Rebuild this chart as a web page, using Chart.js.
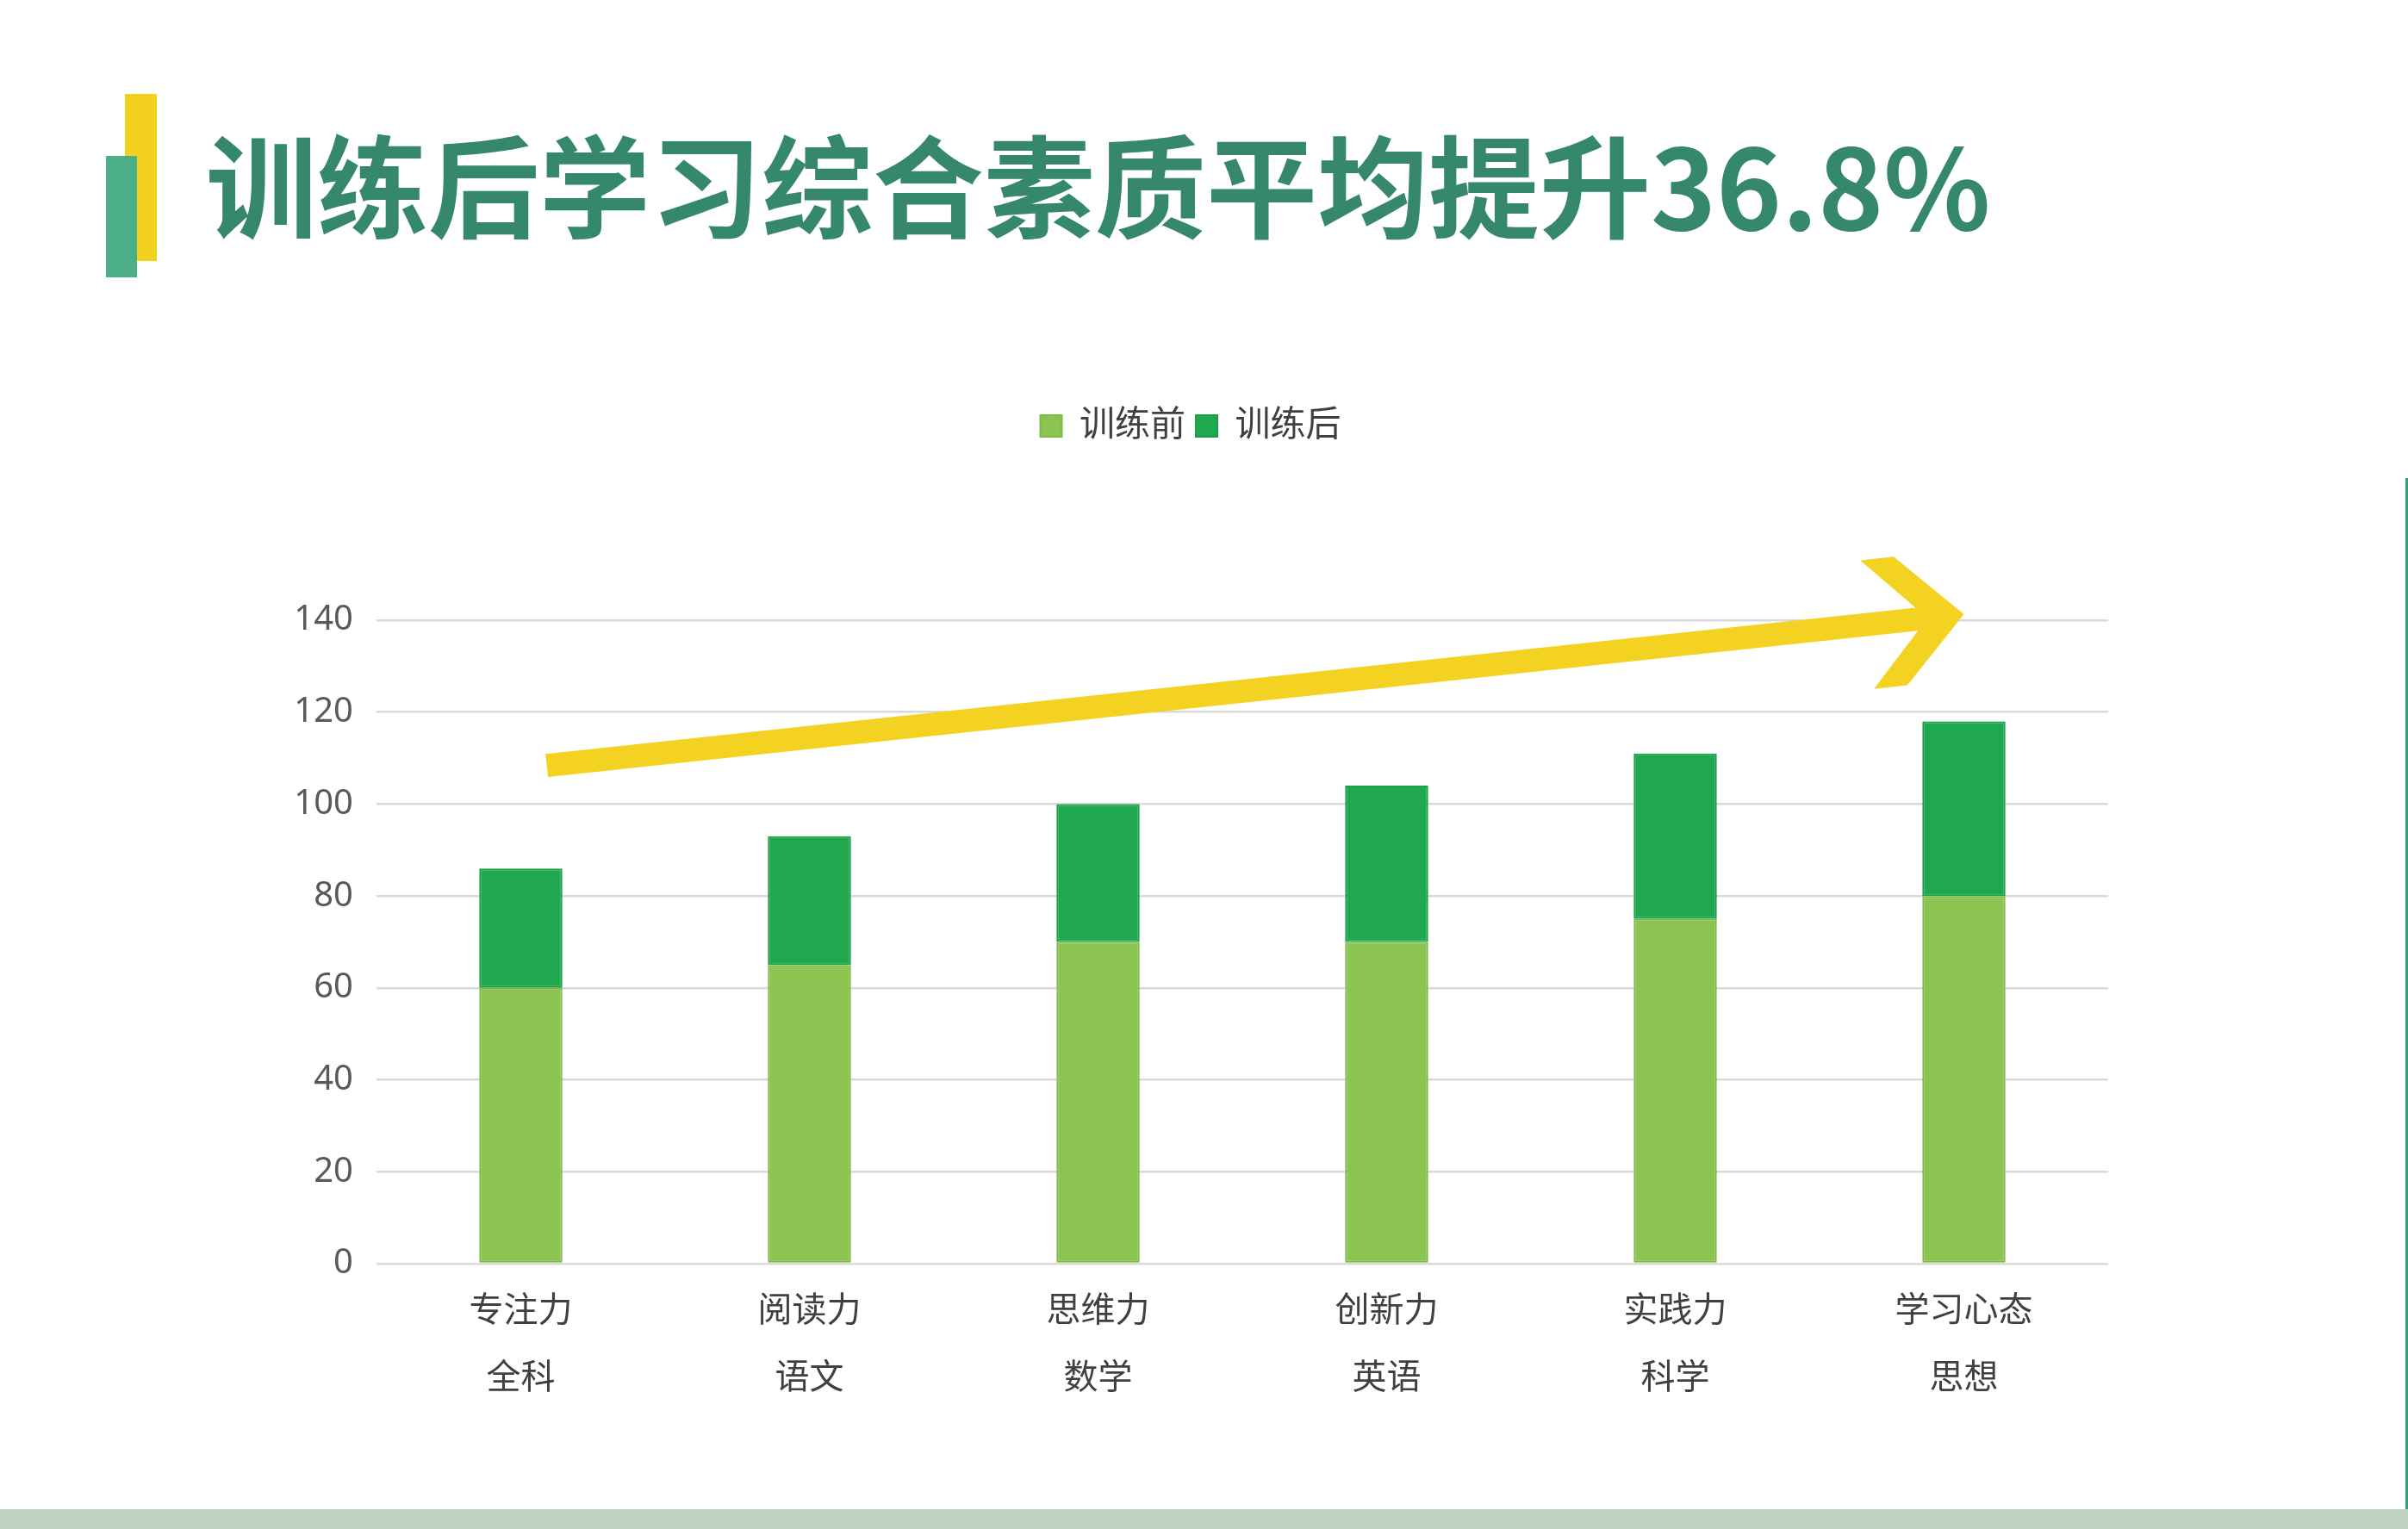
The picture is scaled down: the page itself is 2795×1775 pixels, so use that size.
<!DOCTYPE html>
<html>
<head>
<meta charset="utf-8">
<script src="https://cdn.jsdelivr.net/npm/chart.js@4"></script>
<style>
  html, body { margin:0; padding:0; background:#ffffff; }
  body { width:2795px; height:1775px; position:relative; overflow:hidden; }
  #title { position:absolute; left:239px; top:136px; font-family:"Noto Sans CJK SC","Noto Sans",sans-serif; font-weight:700; font-size:129px; line-height:150px; color:#35886A; white-space:nowrap; letter-spacing:0px; }
  .deco { position:absolute; }
  #wrap { position:absolute; left:0; top:0; width:2795px; height:1775px; }
</style>
</head>
<body>
<div class="deco" style="left:145px;top:109px;width:37px;height:194px;background:#F3D21F;"></div>
<div class="deco" style="left:123px;top:181px;width:36px;height:141px;background:#4DAE8A;"></div>
<div id="title">训练后学习综合素质平均提升36.8%</div>
<div class="deco" style="left:2792px;top:555px;width:3px;height:1197px;background:#2FA37A;"></div>
<div class="deco" style="left:0;top:1752px;width:2795px;height:23px;background:#BFD4C0;"></div>
<div id="wrap"><canvas id="c"></canvas></div>
<script>
const categories = [['专注力','全科'],['阅读力','语文'],['思维力','数学'],['创新力','英语'],['实践力','科学'],['学习心态','思想']];
const seriesNames = ['训练前','训练后'];
const beforeValues = [60, 65, 70, 70, 75, 80];
const afterValues = [26, 28, 30, 34, 36, 38];
const yTicks = [0, 20, 40, 60, 80, 100, 120, 140];
const arrowFrom = { x: 0.09, y: 108.4 };
const arrowTo = { x: 5.0, y: 141.3 };

const FONT = '"Noto Sans","Noto Sans CJK SC",sans-serif';

const legendGap = {
  id: 'legendGap',
  beforeLayout(chart) {
    const lg = chart.legend;
    if (lg && !lg._gapPatched) {
      const orig = lg.fit;
      lg.fit = function () { orig.call(this); this.height += 195; };
      lg._gapPatched = true;
    }
  }
};

const trendArrow = {
  id: 'trendArrow',
  afterDatasetsDraw(chart) {
    const xs = chart.scales.x, ys = chart.scales.y, ctx = chart.ctx;
    const sx = xs.getPixelForValue(arrowFrom.x), sy = ys.getPixelForValue(arrowFrom.y);
    const tx = xs.getPixelForValue(arrowTo.x), ty = ys.getPixelForValue(arrowTo.y);
    const L = Math.hypot(tx - sx, ty - sy);
    const ang = Math.atan2(ty - sy, tx - sx);
    const h = 13.5;
    const pts = [[0,0],[-74,-75],[-113,-75],[-55,-h],[-L,-h],[-L,h],[-55,h],[-113,75],[-74,75]];
    ctx.save();
    ctx.translate(tx, ty);
    ctx.rotate(ang);
    ctx.beginPath();
    pts.forEach((p, i) => i ? ctx.lineTo(p[0], p[1]) : ctx.moveTo(p[0], p[1]));
    ctx.closePath();
    ctx.fillStyle = '#F3D221';
    ctx.fill();
    ctx.restore();
  }
};

new Chart(document.getElementById('c'), {
  type: 'bar',
  data: {
    labels: categories,
    datasets: [
      { label: seriesNames[0], data: beforeValues, backgroundColor: '#8BC451', borderColor: '#7DBB45', borderWidth: 2, borderSkipped: false, categoryPercentage: 0.8, barPercentage: 0.36 },
      { label: seriesNames[1], data: afterValues, backgroundColor: '#20A84E', borderColor: '#17A044', borderWidth: 2, borderSkipped: false, categoryPercentage: 0.8, barPercentage: 0.36 }
    ]
  },
  options: {
    responsive: true,
    maintainAspectRatio: false,
    animation: false,
    layout: { padding: { left: 317, right: 348, top: 462, bottom: 108 } },
    plugins: {
      legend: {
        position: 'top',
        align: 'center',
        labels: { boxWidth: 25, boxHeight: 25, padding: 12, color: '#404040', font: { family: FONT, size: 41 } }
      },
      tooltip: { enabled: false },
      title: { display: false }
    },
    scales: {
      x: {
        stacked: true,
        grid: { display: false, drawTicks: false },
        border: { display: false },
        ticks: { color: '#404040', padding: 17, font: { family: FONT, size: 40, lineHeight: 1.95 }, maxRotation: 0 },
        afterFit(s) { s.height = 200; }
      },
      y: {
        stacked: true,
        min: 0, max: 140,
        afterBuildTicks(s) { s.ticks = yTicks.map(v => ({ value: v })); },
        grid: { color: '#D9D9D9', lineWidth: 2.5, drawTicks: false },
        border: { display: false },
        ticks: { color: '#595959', padding: 27, font: { family: FONT, size: 40 } },
        afterFit(s) { s.width = 120; }
      }
    }
  },
  plugins: [legendGap, trendArrow]
});
</script>
</body>
</html>
